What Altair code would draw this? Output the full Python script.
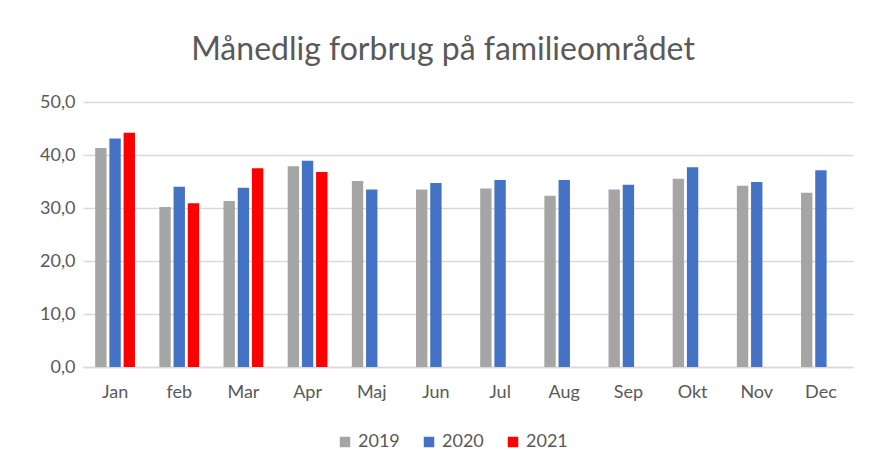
import altair as alt
import pandas as pd

months = ["Jan", "feb", "Mar", "Apr", "Maj", "Jun", "Jul", "Aug", "Sep", "Okt", "Nov", "Dec"]
years = ["2019", "2020", "2021"]
v2019 = [41.3, 30.2, 31.3, 37.9, 35.1, 33.5, 33.7, 32.3, 33.5, 35.5, 34.2, 32.9]
v2020 = [43.1, 34.0, 33.8, 38.9, 33.5, 34.7, 35.3, 35.3, 34.4, 37.7, 34.9, 37.1]
v2021 = [44.2, 30.9, 37.5, 36.8]
colors = ["#A5A5A5", "#4472C4", "#FF0000"]

rows = []
for yr, vals in zip(years, [v2019, v2020, v2021]):
    for m, v in zip(months, vals):
        rows.append({"month": m, "year": yr, "value": v})
df = pd.DataFrame(rows)

font = "Lato"
txt = "#595959"

chart = alt.Chart(df).mark_bar().encode(
    x=alt.X("month:N", sort=months, title=None,
            scale=alt.Scale(paddingInner=0.38, paddingOuter=0.19),
            axis=alt.Axis(labelAngle=0, labelPadding=16, ticks=False, domainColor="#D9D9D9",
                          domainWidth=1.5)),
    xOffset=alt.XOffset("year:N", sort=years, scale=alt.Scale(paddingInner=0.2, paddingOuter=0)),
    y=alt.Y("value:Q", title=None,
            scale=alt.Scale(domain=[0, 50]),
            axis=alt.Axis(values=[0, 10, 20, 30, 40, 50], domain=False, ticks=False,
                          labelExpr="replace(format(datum.value, '.1f'), '.', ',')",
                          labelPadding=8, gridColor="#D9D9D9", gridWidth=1.5)),
    color=alt.Color("year:N", sort=years,
                    scale=alt.Scale(domain=years, range=colors),
                    legend=alt.Legend(orient="none", legendX=253, legendY=331,
                                      direction="horizontal", title=None,
                                      symbolType="square", symbolSize=110, symbolStrokeWidth=0,
                                      columnPadding=20, labelFontSize=18)),
).properties(
    width=770, height=265,
    title=alt.Title("Månedlig forbrug på familieområdet", fontSize=32, font=font,
                    color=txt, fontWeight="normal", anchor="middle", offset=26, dx=-25),
    padding={"left": 31, "top": 26, "right": 5, "bottom": 5},
).configure_axis(
    labelFont=font, labelFontSize=18, labelColor=txt,
).configure_legend(
    labelFont=font, labelColor=txt,
).configure_view(stroke=None)

chart.save("out.html", embed_options={"renderer": "svg", "actions": False})
